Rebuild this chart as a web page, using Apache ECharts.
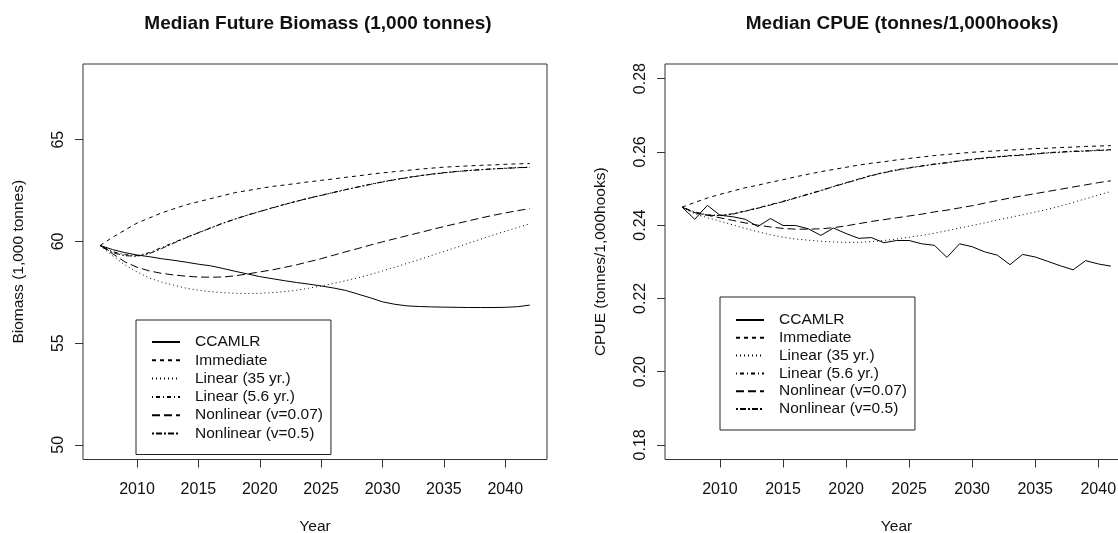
<!DOCTYPE html>
<html><head><meta charset="utf-8">
<script src="https://cdn.jsdelivr.net/npm/echarts@6/dist/echarts.min.js"></script>
<style>html,body{margin:0;padding:0;background:#fff}#c{width:1118px;height:533px}</style>
</head><body><div id="c"></div>
<script>
const seriesNames = ['CCAMLR', 'Immediate', 'Linear (35 yr.)', 'Linear (5.6 yr.)', 'Nonlinear (v=0.07)', 'Nonlinear (v=0.5)'];
const lineTypes = ['solid', [4,4], [1,3], [1,3,4,3], [8,4], [2,2,6,2]];

const biomassYears = [2007,2008,2009,2010,2011,2012,2013,2014,2015,2016,2017,2018,2019,2020,2021,2022,2023,2024,2025,2026,2027,2028,2029,2030,2031,2032,2033,2034,2035,2036,2037,2038,2039,2040,2041,2042];
const bioCCAMLR = [59.8,59.6,59.45,59.33,59.25,59.15,59.07,58.98,58.88,58.8,58.67,58.53,58.4,58.27,58.17,58.07,57.98,57.9,57.81,57.71,57.59,57.41,57.23,57.03,56.91,56.83,56.8,56.78,56.77,56.76,56.75,56.75,56.75,56.76,56.79,56.87];
const bioImmediate = [59.8,60.2,60.55,60.9,61.15,61.4,61.6,61.8,61.95,62.1,62.25,62.4,62.5,62.6,62.7,62.77,62.85,62.93,63.0,63.07,63.15,63.22,63.3,63.37,63.43,63.49,63.55,63.6,63.65,63.68,63.71,63.74,63.76,63.79,63.81,63.83];
const bioLinear35 = [59.8,59.3,58.85,58.5,58.2,58.0,57.85,57.7,57.6,57.53,57.48,57.45,57.44,57.45,57.48,57.53,57.6,57.7,57.81,57.93,58.07,58.21,58.37,58.55,58.73,58.92,59.11,59.31,59.5,59.7,59.91,60.11,60.31,60.5,60.68,60.87];
const bioLinear56 = [59.8,59.5,59.35,59.3,59.45,59.7,59.95,60.2,60.43,60.67,60.9,61.1,61.3,61.47,61.65,61.82,61.98,62.13,62.27,62.41,62.55,62.68,62.81,62.93,63.04,63.14,63.23,63.31,63.38,63.44,63.49,63.53,63.57,63.6,63.63,63.65];
const bioNonlin007 = [59.8,59.4,59.0,58.73,58.55,58.43,58.35,58.29,58.25,58.24,58.25,58.31,58.4,58.5,58.6,58.72,58.85,59.0,59.15,59.32,59.49,59.65,59.82,59.98,60.13,60.28,60.43,60.58,60.73,60.87,61.01,61.15,61.28,61.4,61.51,61.61];
const bioNonlin05 = [59.8,59.45,59.3,59.27,59.4,59.65,59.92,60.18,60.42,60.66,60.89,61.1,61.29,61.47,61.64,61.81,61.97,62.12,62.26,62.4,62.54,62.67,62.8,62.92,63.03,63.13,63.22,63.3,63.37,63.43,63.48,63.52,63.56,63.59,63.62,63.64];

const cpueYears = [2007,2008,2009,2010,2011,2012,2013,2014,2015,2016,2017,2018,2019,2020,2021,2022,2023,2024,2025,2026,2027,2028,2029,2030,2031,2032,2033,2034,2035,2036,2037,2038,2039,2040,2041];
const cpueCCAMLR = [0.2449,0.2416,0.2454,0.2427,0.2423,0.2416,0.2396,0.2418,0.2399,0.2399,0.2390,0.2372,0.2392,0.2377,0.2364,0.2366,0.2352,0.2358,0.2358,0.2349,0.2345,0.2312,0.2349,0.2341,0.2327,0.2318,0.2292,0.2320,0.2313,0.2301,0.2289,0.2278,0.2303,0.2294,0.2288];
const cpueImmediate = [0.2449,0.2462,0.2474,0.2484,0.2493,0.2502,0.2509,0.2517,0.2524,0.2532,0.2539,0.2546,0.2552,0.2558,0.2564,0.2569,0.2573,0.2578,0.2582,0.2586,0.2590,0.2593,0.2596,0.2599,0.2601,0.2603,0.2605,0.2607,0.2609,0.2610,0.2612,0.2613,0.2615,0.2616,0.2617];
const cpueLinear35 = [0.2449,0.2431,0.2420,0.2411,0.2401,0.2391,0.2382,0.2374,0.2367,0.2362,0.2359,0.2356,0.2354,0.2353,0.2353,0.2355,0.2358,0.2362,0.2367,0.2372,0.2378,0.2385,0.2392,0.2399,0.2406,0.2414,0.2421,0.2428,0.2436,0.2443,0.2452,0.2462,0.2472,0.2482,0.2492];
const cpueLinear56 = [0.2449,0.2436,0.2428,0.2427,0.2431,0.2439,0.2447,0.2456,0.2465,0.2475,0.2485,0.2495,0.2506,0.2516,0.2526,0.2536,0.2544,0.2551,0.2557,0.2562,0.2567,0.2571,0.2576,0.2580,0.2584,0.2587,0.2590,0.2592,0.2595,0.2598,0.2600,0.2602,0.2603,0.2605,0.2606];
const cpueNonlin007 = [0.2449,0.2434,0.2427,0.2420,0.2413,0.2406,0.2400,0.2395,0.2391,0.2389,0.2389,0.2390,0.2393,0.2398,0.2404,0.2410,0.2415,0.2420,0.2425,0.2430,0.2436,0.2441,0.2447,0.2453,0.2460,0.2467,0.2474,0.2480,0.2486,0.2492,0.2498,0.2504,0.2510,0.2516,0.2521];
const cpueNonlin05 = [0.2449,0.2434,0.2427,0.2426,0.2430,0.2438,0.2446,0.2455,0.2464,0.2474,0.2484,0.2494,0.2505,0.2515,0.2525,0.2535,0.2543,0.2550,0.2556,0.2561,0.2566,0.2570,0.2575,0.2579,0.2583,0.2586,0.2589,0.2591,0.2594,0.2597,0.2599,0.2601,0.2602,0.2604,0.2605];

const yearTicks = [2010,2015,2020,2025,2030,2035,2040];
const biomassTicks = [50,55,60,65];
const cpueTicks = [0.18,0.20,0.22,0.24,0.26,0.28];

const bioSets = [bioCCAMLR, bioImmediate, bioLinear35, bioLinear56, bioNonlin007, bioNonlin05];
const cpueSets = [cpueCCAMLR, cpueImmediate, cpueLinear35, cpueLinear56, cpueNonlin007, cpueNonlin05];

const FONT = '"Liberation Sans", Arial, sans-serif';
const INK = '#111';

function xAxisFor(grid, min, max) {
  return {
    type: 'value', gridIndex: grid, min: min, max: max,
    axisLine: { show: false }, splitLine: { show: false },
    axisTick: { show: true, length: 8, customValues: yearTicks, lineStyle: { color: '#333', width: 1 } },
    axisLabel: { customValues: yearTicks, fontSize: 16, margin: 22, color: INK, fontFamily: FONT, formatter: v => String(v) },
    name: 'Year', nameLocation: 'middle', nameGap: 59,
    nameTextStyle: { fontSize: 15.5, color: INK, fontFamily: FONT }
  };
}
function yAxisFor(grid, min, max, ticks, name, fmt) {
  return {
    type: 'value', gridIndex: grid, min: min, max: max,
    axisLine: { show: false }, splitLine: { show: false },
    axisTick: { show: true, length: 8, customValues: ticks, lineStyle: { color: '#333', width: 1 } },
    axisLabel: { customValues: ticks, rotate: 90, fontSize: 16, margin: 16, color: INK, fontFamily: FONT, formatter: fmt },
    name: name, nameLocation: 'middle', nameGap: 56, nameRotate: 90,
    nameTextStyle: { fontSize: 15.5, color: INK, fontFamily: FONT }
  };
}

const series = [];
seriesNames.forEach((n, i) => {
  series.push({
    name: n, type: 'line', xAxisIndex: 0, yAxisIndex: 0, symbol: 'none', showSymbol: false, clip: true,
    lineStyle: { color: '#000', width: 1, type: lineTypes[i] },
    itemStyle: { color: '#000' },
    data: biomassYears.map((y, k) => [y, bioSets[i][k]])
  });
});
seriesNames.forEach((n, i) => {
  series.push({
    name: n, type: 'line', xAxisIndex: 1, yAxisIndex: 1, symbol: 'none', showSymbol: false, clip: true,
    lineStyle: { color: '#000', width: 1, type: lineTypes[i] },
    itemStyle: { color: '#000' },
    data: cpueYears.map((y, k) => [y, cpueSets[i][k]])
  });
});

function legendAt(left, top, gap, padTop) {
  return {
    data: seriesNames, orient: 'vertical', left: left, top: top,
    itemWidth: 28, itemHeight: 14, itemGap: gap,
    padding: [padTop, 8, 13, 15],
    borderColor: '#222', borderWidth: 1, backgroundColor: '#fff',
    selectedMode: false,
    itemStyle: { opacity: 0 },
    textStyle: { fontSize: 15.5, color: INK, fontFamily: FONT, padding: [0, 0, 0, 10] }
  };
}

const gridBase = { show: true, borderColor: '#333', borderWidth: 1, backgroundColor: 'transparent', containLabel: false, outerBoundsMode: 'none' };

const chart = echarts.init(document.getElementById('c'), null, { renderer: 'canvas' });
chart.setOption({
  animation: false,
  backgroundColor: '#fff',
  title: [
    { text: 'Median Future Biomass (1,000 tonnes)', left: 313, top: 9, textAlign: 'center',
      textStyle: { fontSize: 19, fontWeight: 'bold', color: INK, fontFamily: FONT } },
    { text: 'Median CPUE (tonnes/1,000hooks)', left: 897, top: 9, textAlign: 'center',
      textStyle: { fontSize: 19, fontWeight: 'bold', color: INK, fontFamily: FONT } }
  ],
  grid: [
    Object.assign({ left: 83, top: 64, width: 464, height: 395.5 }, gridBase),
    Object.assign({ left: 665, top: 64, width: 463, height: 395.5 }, gridBase)
  ],
  xAxis: [ xAxisFor(0, 2005.6, 2043.4), xAxisFor(1, 2005.64, 2042.36) ],
  yAxis: [
    yAxisFor(0, 49.28, 68.72, biomassTicks, 'Biomass (1,000 tonnes)', v => String(v)),
    yAxisFor(1, 0.176, 0.284, cpueTicks, 'CPUE (tonnes/1,000hooks)', v => v.toFixed(2))
  ],
  legend: [ legendAt(136, 320, 2.3, 14), legendAt(720, 297, 1.8, 15) ],
  series: series
});
</script></body></html>
